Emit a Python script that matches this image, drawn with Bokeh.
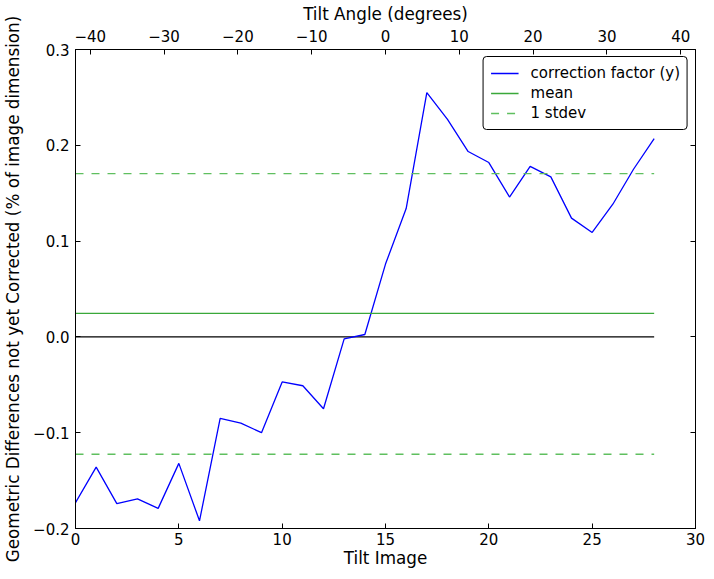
from bokeh.plotting import figure
from bokeh.models import (Range1d, LinearAxis, FixedTicker, Legend, LegendItem,
                          CustomLabelingPolicy)
from bokeh.embed import file_html
from bokeh.resources import INLINE

# ---- data ----
tilt_image = list(range(29))
correction_y = [-0.173, -0.136, -0.174, -0.169, -0.179, -0.132, -0.192, -0.085,
                -0.090, -0.100, -0.047, -0.051, -0.075, -0.002, 0.0025, 0.076,
                0.134, 0.255, 0.227, 0.1935, 0.182, 0.146, 0.178, 0.167,
                0.124, 0.109, 0.1385, 0.175, 0.207]
mean_value = 0.0245
stdev_upper = 0.1705
stdev_lower = -0.1225
zero_value = 0.0

x_ticks = [0, 5, 10, 15, 20, 25, 30]
x_tick_labels = ["0", "5", "10", "15", "20", "25", "30"]
angle_ticks = [-40, -30, -20, -10, 0, 10, 20, 30, 40]
angle_tick_labels = ["\u221240", "\u221230", "\u221220", "\u221210", "0", "10", "20", "30", "40"]
y_ticks = [-0.2, -0.1, 0.0, 0.1, 0.2, 0.3]
y_tick_labels = ["\u22120.2", "\u22120.1", "0.0", "0.1", "0.2", "0.3"]

x_range = (0, 30)
angle_range = (-42, 42)
y_range = (-0.2, 0.3)

labels = ["correction factor (y)", "mean", "1 stdev"]

FONT = "DejaVu Sans"

p = figure(frame_width=620, frame_height=479,
           x_range=Range1d(*x_range), y_range=Range1d(*y_range),
           x_axis_location=None, y_axis_location=None,
           output_backend="svg", toolbar_location=None,
           min_border_left=0, min_border_right=11,
           min_border_top=0, min_border_bottom=0,
           background_fill_color="white", border_fill_color="white")
p.grid.visible = False
p.outline_line_color = "black"
p.outline_line_width = 1

p.extra_x_ranges = {"angle": Range1d(*angle_range)}

bottom = LinearAxis(axis_label="Tilt Image", ticker=FixedTicker(ticks=x_ticks),
                    major_label_overrides=dict(zip(x_ticks, x_tick_labels)))
left = LinearAxis(axis_label="Geometric Differences not yet Corrected (% of image dimension)",
                  ticker=FixedTicker(ticks=y_ticks),
                  major_label_overrides=dict(zip(y_ticks, y_tick_labels)))
top = LinearAxis(x_range_name="angle", axis_label="Tilt Angle (degrees)",
                 ticker=FixedTicker(ticks=angle_ticks),
                 major_label_overrides=dict(zip(angle_ticks, angle_tick_labels)))
right = LinearAxis(ticker=FixedTicker(ticks=y_ticks))
p.add_layout(bottom, "below")
p.add_layout(left, "left")
p.add_layout(top, "above")
p.add_layout(right, "right")

for ax in (bottom, left, top, right):
    ax.major_tick_in = 5
    ax.major_tick_out = 0
    ax.minor_tick_in = 0
    ax.minor_tick_out = 0
    ax.axis_line_color = "black"
    ax.major_tick_line_color = "black"
    ax.major_label_text_font = FONT
    ax.major_label_text_font_size = "15px"
    ax.major_label_text_color = "black"
    ax.axis_label_text_font = FONT
    ax.axis_label_text_font_size = "16.8px"
    ax.axis_label_text_font_style = "normal"
    ax.axis_label_text_color = "black"

# right axis: ticks only, no labels drawn
right.major_label_text_font_size = "1px"
right.major_label_standoff = 0
right.major_label_policy = CustomLabelingPolicy(
    code="for (let i = 0; i < indices.size; i++) { indices.unset(i) } return indices")

left.major_label_standoff = 6
left.axis_label_standoff = 7
bottom.major_label_standoff = 4
bottom.axis_label_standoff = 0
top.major_label_standoff = 8
top.axis_label_standoff = 3

line_x = [tilt_image[0], tilt_image[-1]]

r_zero = p.line(line_x, [zero_value, zero_value], line_color="black", line_width=1.3)
r_y = p.line(tilt_image, correction_y, line_color="#0000ff", line_width=1.3)
r_mean = p.line(line_x, [mean_value, mean_value], line_color="#3aa83a", line_width=1.3)
r_up = p.line(line_x, [stdev_upper, stdev_upper], line_color="#5fbf5f",
              line_width=1.3, line_dash="8 8")
r_lo = p.line(line_x, [stdev_lower, stdev_lower], line_color="#5fbf5f",
              line_width=1.3, line_dash="8 8")

legend = Legend(items=[LegendItem(label=labels[0], renderers=[r_y]),
                       LegendItem(label=labels[1], renderers=[r_mean]),
                       LegendItem(label=labels[2], renderers=[r_up])],
                location="top_right")
legend.border_line_color = "black"
legend.border_line_width = 1
legend.border_line_alpha = 1
legend.background_fill_alpha = 1
legend.label_text_font = FONT
legend.label_text_font_size = "15px"
legend.label_text_color = "black"
legend.glyph_width = 28
legend.glyph_height = 18
legend.label_height = 18
legend.spacing = 2
legend.padding = 7
legend.margin = 7
legend.label_standoff = 12
legend.border_radius = 4
p.add_layout(legend)

open("out.html", "w").write(file_html(p, INLINE))
